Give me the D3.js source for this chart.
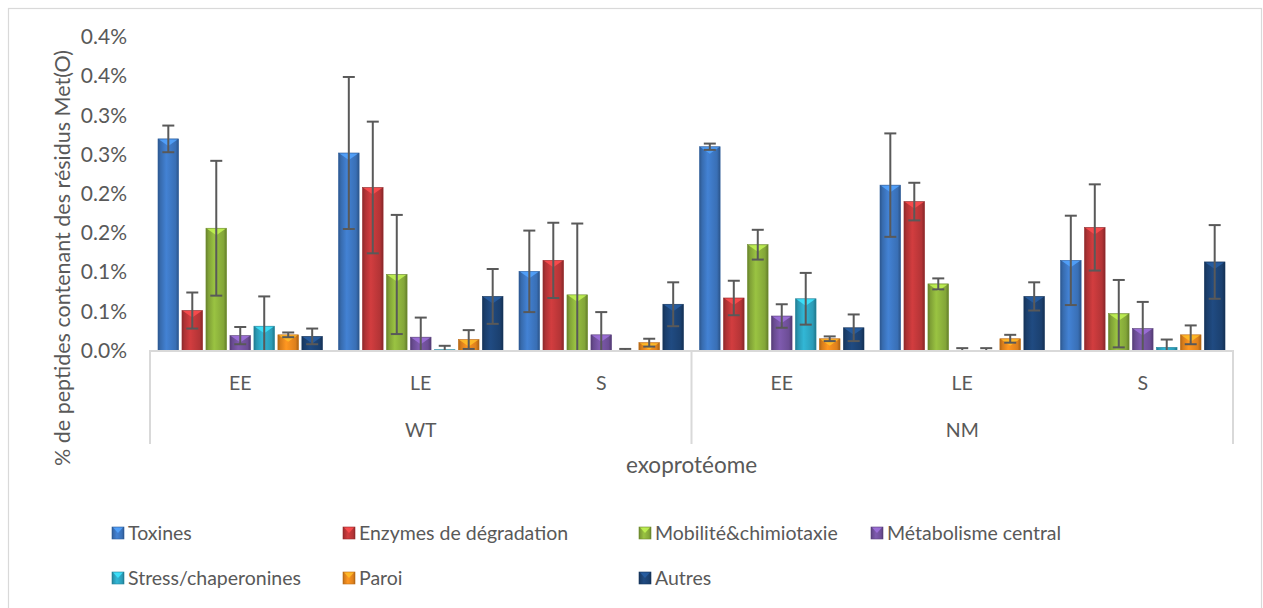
<!DOCTYPE html>
<html>
<head>
<meta charset="utf-8">
<script src="https://cdn.jsdelivr.net/npm/d3@7"></script>
<style>
  html, body { margin: 0; padding: 0; background: #fff; }
  svg { display: block; }
  text { font-family: Lato, "Open Sans", sans-serif; fill: #595959; }
</style>
</head>
<body>
<svg id="chart" width="1263" height="608"></svg>
<script>
// ---- data ----
const categories = ["EE", "LE", "S", "EE", "LE", "S"];
const groups = ["WT", "NM"];
const seriesNames = ["Toxines", "Enzymes de dégradation", "Mobilité&chimiotaxie", "Métabolisme central", "Stress/chaperonines", "Paroi", "Autres"];
const toxines      = [0.270, 0.252, 0.101, 0.260, 0.211, 0.115];
const enzymes      = [0.051, 0.208, 0.115, 0.067, 0.190, 0.157];
const mobilite     = [0.156, 0.097, 0.071, 0.135, 0.085, 0.047];
const metabolisme  = [0.019, 0.017, 0.020, 0.044, 0.000, 0.028];
const stress       = [0.031, 0.001, 0.000, 0.066, 0.000, 0.004];
const paroi        = [0.020, 0.014, 0.010, 0.015, 0.015, 0.020];
const autres       = [0.018, 0.069, 0.059, 0.029, 0.069, 0.113];
const errToxines     = [0.017, 0.097, 0.052, 0.004, 0.066, 0.057];
const errEnzymes     = [0.023, 0.084, 0.048, 0.022, 0.024, 0.055];
const errMobilite    = [0.086, 0.076, 0.091, 0.019, 0.007, 0.043];
const errMetabolisme = [0.011, 0.025, 0.029, 0.015, 0.003, 0.034];
const errStress      = [0.038, 0.005, 0.002, 0.033, 0.003, 0.010];
const errParoi       = [0.003, 0.012, 0.005, 0.003, 0.005, 0.012];
const errAutres      = [0.010, 0.035, 0.028, 0.017, 0.018, 0.047];
const tickValues = [0, 0.05, 0.10, 0.15, 0.20, 0.25, 0.30, 0.35, 0.40];
const tickLabels = ["0.0%", "0.1%", "0.1%", "0.2%", "0.2%", "0.3%", "0.3%", "0.4%", "0.4%"];
const yTitle = "% de peptides contenant des résidus Met(O)";
const xTitle = "exoprotéome";

const seriesValues = [toxines, enzymes, mobilite, metabolisme, stress, paroi, autres];
const seriesErrors = [errToxines, errEnzymes, errMobilite, errMetabolisme, errStress, errParoi, errAutres];
const colors = ["#3d77c2", "#c0383a", "#8db23c", "#7453a0", "#2ea7c4", "#ee8a1e", "#1d4577"];

// ---- layout ----
const svg = d3.select("#chart");
const plot = { left: 150, right: 1233, top: 37, bottom: 350.5 };
const axisColor = "#d9d9d9";

svg.append("rect").attr("x", 8.5).attr("y", 8.5).attr("width", 1253).attr("height", 640)
  .attr("fill", "#fff").attr("stroke", axisColor).attr("stroke-width", 1.2);

const y = d3.scaleLinear().domain([0, 0.4]).range([plot.bottom, plot.top]);
const catIdx = categories.map((c, i) => i);
const x0 = d3.scaleBand().domain(catIdx).range([plot.left, plot.right]).paddingInner(0).paddingOuter(0);
const x1 = d3.scaleBand().domain(d3.range(seriesNames.length)).range([8, x0.bandwidth() - 8]).paddingInner(0.14).paddingOuter(0);

// gradients
const defs = svg.append("defs");
colors.forEach((c, i) => {
  const base = d3.color(c);
  const g = defs.append("linearGradient").attr("id", "g" + i).attr("x1", "0").attr("x2", "1").attr("y1", "0").attr("y2", "0");
  g.append("stop").attr("offset", "0%").attr("stop-color", base.darker(0.9));
  g.append("stop").attr("offset", "12%").attr("stop-color", base.darker(0.3));
  g.append("stop").attr("offset", "40%").attr("stop-color", base.brighter(0.25));
  g.append("stop").attr("offset", "85%").attr("stop-color", base.darker(0.2));
  g.append("stop").attr("offset", "100%").attr("stop-color", base.darker(1.0));
});

// y axis
const yAxis = d3.axisLeft(y).tickValues(tickValues).tickSize(0).tickPadding(0)
  .tickFormat((d, i) => tickLabels[i]);
const ya = svg.append("g").attr("transform", "translate(127,0)").call(yAxis);
ya.select(".domain").remove();
ya.selectAll("text").style("font-family", "Lato, sans-serif").style("font-size", "21px").attr("fill", "#595959");

// y title
svg.append("text").attr("transform", `translate(70,258) rotate(-90)`)
  .attr("text-anchor", "middle").style("font-size", "21.5px").text(yTitle);

// bars
const barData = [];
seriesValues.forEach((vals, s) => vals.forEach((v, c) => barData.push({ s, c, v, e: seriesErrors[s][c] })));

const bars = svg.append("g");
bars.selectAll("rect.bar").data(barData).join("rect").attr("class", "bar")
  .attr("x", d => x0(d.c) + x1(d.s))
  .attr("y", d => y(d.v))
  .attr("width", x1.bandwidth())
  .attr("height", d => y(0) - y(d.v))
  .attr("fill", d => `url(#g${d.s})`)
  .attr("stroke", d => d3.color(colors[d.s]).darker(0.6))
  .attr("stroke-width", 0.6);

// bevel triangles on top
bars.selectAll("path.bevel").data(barData.filter(d => y(0) - y(d.v) > 6)).join("path").attr("class", "bevel")
  .attr("d", d => {
    const xl = x0(d.c) + x1(d.s), w = x1.bandwidth(), t = y(d.v);
    return `M${xl + 1},${t + 0.5} L${xl + w - 1},${t + 0.5} L${xl + w / 2},${t + 7} Z`;
  })
  .attr("fill", d => d3.color(colors[d.s]).brighter(0.9))
  .attr("opacity", 0.85);

// error bars
const eb = svg.append("g").attr("stroke", "#595959").attr("stroke-width", 2).attr("fill", "none");
barData.forEach(d => {
  const cx = x0(d.c) + x1(d.s) + x1.bandwidth() / 2;
  const top = y(d.v + d.e);
  const lo = d.v - d.e;
  const bot = lo < 0 ? y(0) : y(lo);
  eb.append("line").attr("x1", cx).attr("x2", cx).attr("y1", top).attr("y2", bot);
  eb.append("line").attr("x1", cx - 6).attr("x2", cx + 6).attr("y1", top).attr("y2", top);
  if (lo >= 0) eb.append("line").attr("x1", cx - 6).attr("x2", cx + 6).attr("y1", bot).attr("y2", bot);
});

// x axis structure
const ax = svg.append("g").attr("stroke", axisColor).attr("stroke-width", 2);
ax.append("line").attr("x1", plot.left).attr("x2", plot.right).attr("y1", 351).attr("y2", 351);
const groupSize = categories.length / groups.length;
const boundaries = d3.range(groups.length + 1).map(g => g === groups.length ? plot.right : x0(g * groupSize));
boundaries.forEach(bx => ax.append("line").attr("x1", bx).attr("x2", bx).attr("y1", 350).attr("y2", 444));

svg.append("g").selectAll("text").data(catIdx).join("text")
  .attr("x", d => x0(d) + x0.bandwidth() / 2).attr("y", 390)
  .attr("text-anchor", "middle").style("font-size", "19.5px").text(d => categories[d]);

svg.append("g").selectAll("text").data(groups).join("text")
  .attr("x", (d, i) => (boundaries[i] + boundaries[i + 1]) / 2).attr("y", 437)
  .attr("text-anchor", "middle").style("font-size", "19.5px").text(d => d);

svg.append("text").attr("x", (plot.left + plot.right) / 2).attr("y", 473)
  .attr("text-anchor", "middle").style("font-size", "22.5px").text(xTitle);

// legend
const legX = [112, 343, 639, 871];
const legY = [533, 578];
const leg = svg.append("g").selectAll("g").data(seriesNames).join("g")
  .attr("transform", (d, i) => `translate(${legX[i % 4]},${legY[Math.floor(i / 4)]})`);
leg.append("rect").attr("x", 0).attr("y", -6).attr("width", 12).attr("height", 12)
  .attr("fill", (d, i) => `url(#g${i})`).attr("stroke", (d, i) => d3.color(colors[i]).darker(0.6)).attr("stroke-width", 0.6);
leg.append("path").attr("d", "M1,-5.5 L11,-5.5 L6,0 Z").attr("fill", (d, i) => d3.color(colors[i]).brighter(0.9)).attr("opacity", 0.85);
leg.append("text").attr("x", 16).attr("y", 0).attr("dy", "0.35em").style("font-size", "19.5px").text(d => d);
</script>
</body>
</html>
